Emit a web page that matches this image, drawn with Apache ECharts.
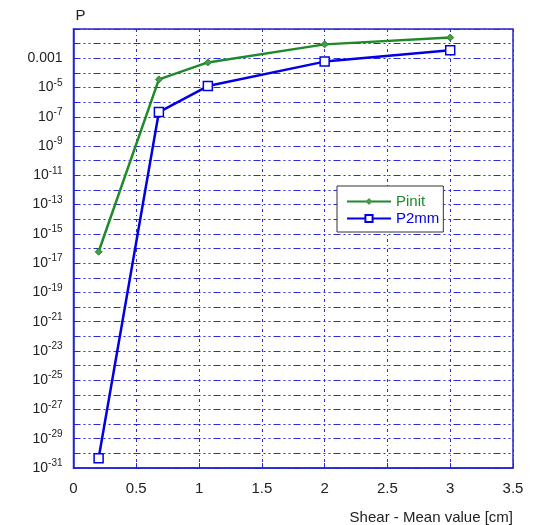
<!DOCTYPE html>
<html>
<head>
<meta charset="utf-8">
<style>html,body{margin:0;padding:0;background:#fff}#chart{width:540px;height:525px}</style>
</head>
<body>
<div id="chart"></div>
<script src="https://cdn.jsdelivr.net/npm/echarts@6/dist/echarts.min.js"></script>
<script>
// mean shear values [cm]
var shear = [0.2, 0.68, 1.07, 2.0, 3.0];
// probabilities
var pinit = [6.0e-17, 3.6e-5, 5.2e-4, 8.9e-3, 2.6e-2];
var p2mm  = [4.6e-31, 2.1e-7, 1.26e-5, 5.9e-4, 3.5e-3];

var gridBlue = '#2a2ae0';
var axisBlue = '#2626cc';

var chart = echarts.init(document.getElementById('chart'));

// the y axis runs over powers of ten (log10 of P)
function yLabel(e) {
  e = Math.round(e);
  if (e % 2 === 0 || e === -1) return '';
  if (e === -3) return '0.001';
  return '{b|10}{s|' + e + '}';
}

function toLog(arr) {
  return shear.map(function (x, i) { return [x, Math.log10(arr[i])]; });
}

chart.setOption({
  animation: false,
  textStyle: { fontFamily: 'Liberation Sans, Arial, sans-serif' },
  grid: { left: 73.5, right: 27, top: 29, bottom: 57, show: true, borderColor: axisBlue, borderWidth: 1.5 },
  legend: {
    orient: 'vertical',
    left: 337, top: 186,
    itemWidth: 44, itemHeight: 9, itemGap: 2,
    padding: [8, 4, 6, 9],
    backgroundColor: '#fff',
    borderColor: '#333', borderWidth: 1,
    textStyle: { fontSize: 15 },
    data: [
      { name: 'Pinit', textStyle: { color: '#1f8a2a' } },
      { name: 'P2mm', textStyle: { color: '#0000e0' } }
    ]
  },
  xAxis: {
    type: 'value', min: 0, max: 3.5, interval: 0.5,
    name: 'Shear - Mean value [cm]', nameLocation: 'end',
    nameGap: 0,
    nameTextStyle: { fontSize: 15, color: '#222', align: 'right', verticalAlign: 'top', padding: [42, 0, 0, 0] },
    axisLine: { lineStyle: { color: axisBlue, width: 1.5 } },
    axisTick: { inside: true, length: 5, lineStyle: { color: axisBlue } },
    axisLabel: { fontSize: 15, color: '#222', margin: 13 },
    splitLine: { lineStyle: { color: gridBlue, type: [3, 3, 1, 3], width: 1 } }
  },
  yAxis: {
    type: 'value', min: -31, max: -1, interval: 1,
    name: 'P', nameLocation: 'end', nameGap: 6,
    nameTextStyle: { fontSize: 15, color: '#222', align: 'left', padding: [0, 0, 0, 2] },
    axisLine: { lineStyle: { color: axisBlue, width: 1.5 } },
    axisTick: { inside: true, length: 5, lineStyle: { color: axisBlue } },
    axisLabel: {
      color: '#222', margin: 11,
      formatter: yLabel,
      rich: {
        b: { fontSize: 14, color: '#222' },
        s: { fontSize: 10, color: '#222', padding: [0, 0, 9, 0] }
      },
      fontSize: 14
    },
    splitLine: { lineStyle: { color: gridBlue, type: [7, 3, 2, 3, 2, 3], width: 1 } }
  },
  series: [
    {
      name: 'Pinit', type: 'line',
      data: toLog(pinit),
      symbol: 'diamond', symbolSize: 7,
      itemStyle: { color: '#4a9a4a', borderColor: '#1f8a2a' },
      lineStyle: { color: '#1f8a2a', width: 2.5 },
      z: 3
    },
    {
      name: 'P2mm', type: 'line',
      data: toLog(p2mm),
      symbol: 'rect', symbolSize: 9,
      itemStyle: { color: '#fff', borderColor: '#0000e0', borderWidth: 1.5 },
      lineStyle: { color: '#0000e0', width: 2.5 },
      z: 4
    }
  ]
});
</script>
</body>
</html>
